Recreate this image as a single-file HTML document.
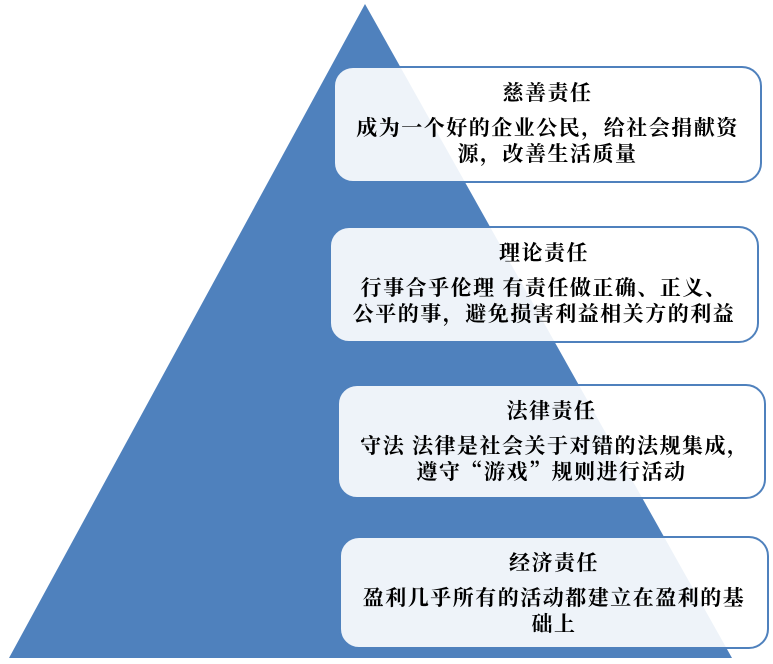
<!DOCTYPE html>
<html><head><meta charset="utf-8"><style>
body{margin:0;width:773px;height:664px;background:#fff;position:relative;overflow:hidden;font-family:"Noto Serif CJK SC","Liberation Serif",serif;}
.b{position:absolute;box-sizing:border-box;border:2.5px solid #4f81bd;border-radius:20px;background:rgba(255,255,255,0.9);text-align:center;font-weight:bold;color:#000;font-size:21px;letter-spacing:1.5px;}
.t{margin-top:10px;line-height:28px;}
.d{margin-top:8px;line-height:26px;white-space:nowrap;}
</style></head><body>
<svg width="773" height="664" style="position:absolute;left:0;top:0"><polygon points="365,4 9,658 732,658" fill="#4f81bd"/></svg>
<div class="b" style="left:333px;top:66px;width:429px;height:117px"><div class="t">慈善责任</div><div class="d">成为一个好的企业公民，给社会捐献资<br>源，改善生活质量</div></div>
<div class="b" style="left:329px;top:226px;width:430px;height:117px"><div class="t">理论责任</div><div class="d">行事合乎伦理 有责任做正确、正义、<br>公平的事，避免损害利益相关方的利益</div></div>
<div class="b" style="left:337px;top:384px;width:429px;height:115px"><div class="t">法律责任</div><div class="d">&nbsp;守法 法律是社会关于对错的法规集成，<br>遵守“游戏”规则进行活动</div></div>
<div class="b" style="left:339px;top:536px;width:430px;height:113px"><div class="t">经济责任</div><div class="d">盈利几乎所有的活动都建立在盈利的基<br>础上</div></div>
</body></html>
